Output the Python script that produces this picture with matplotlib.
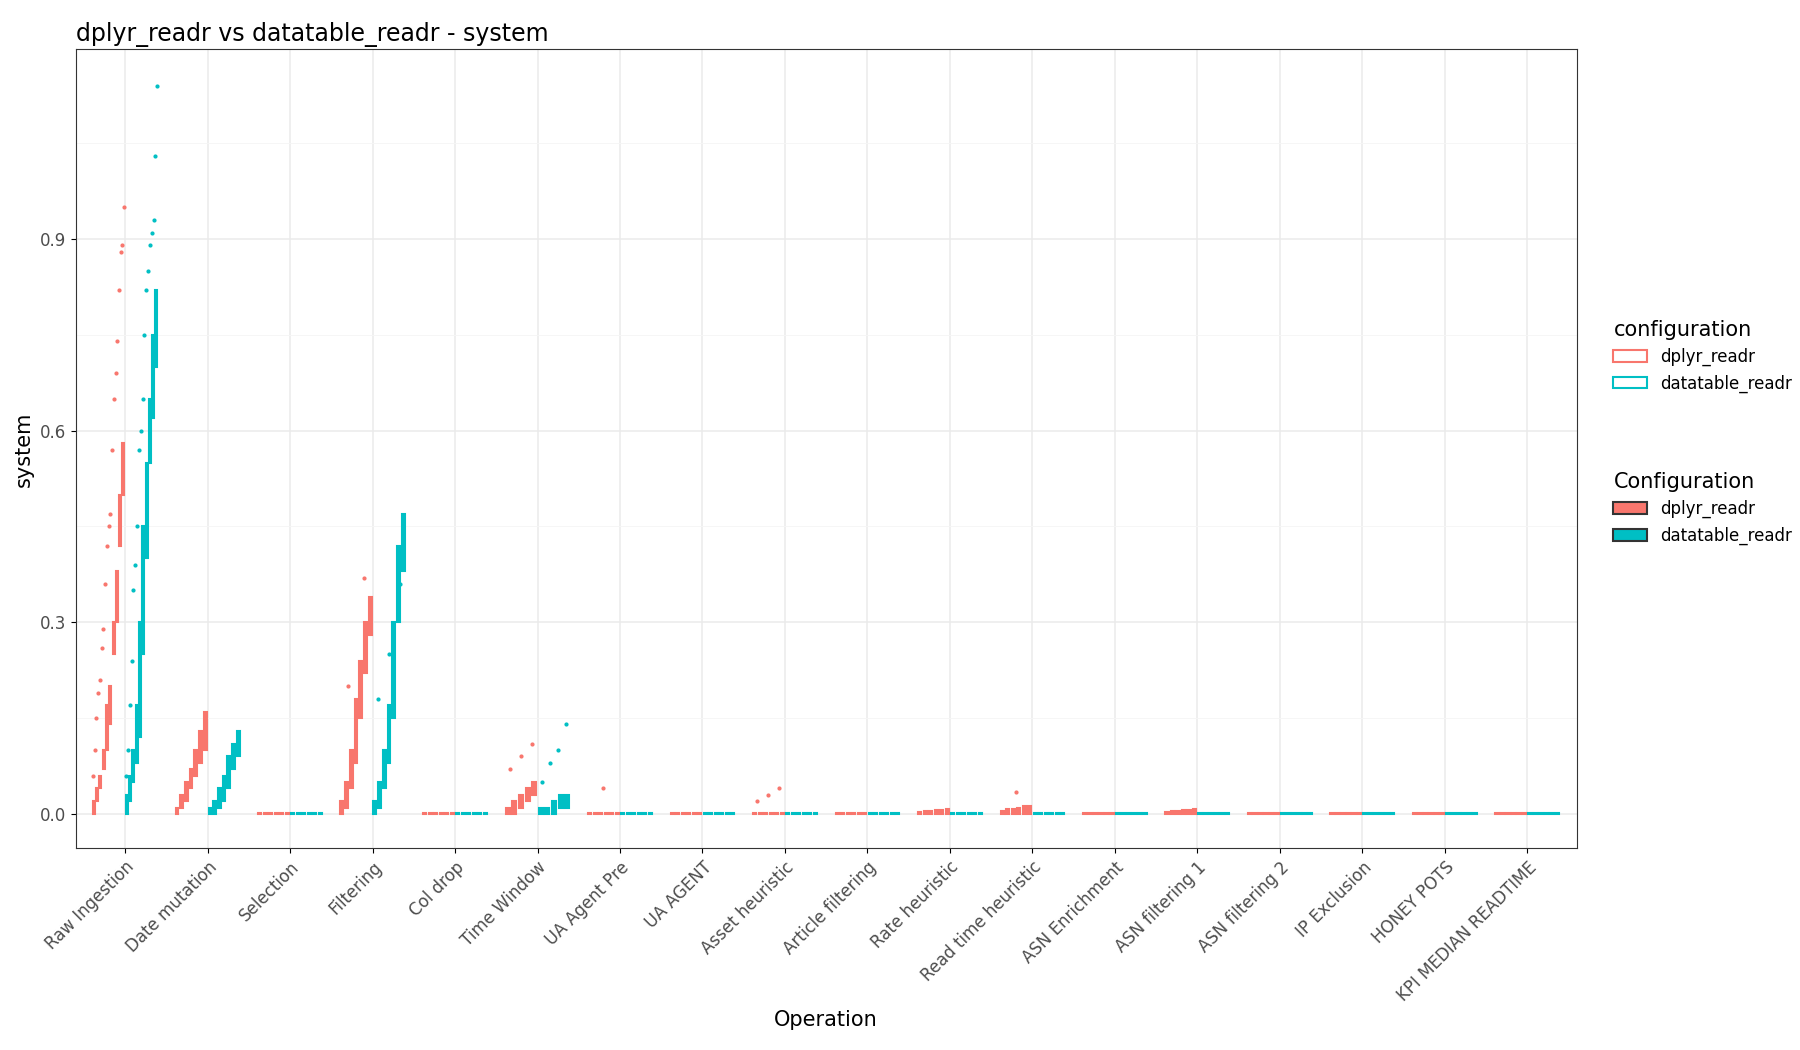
import numpy as np
import matplotlib.pyplot as plt
from matplotlib.patches import Patch

operations = ["Raw Ingestion", "Date mutation", "Selection", "Filtering", "Col drop",
              "Time Window", "UA Agent Pre", "UA AGENT", "Asset heuristic", "Article filtering",
              "Rate heuristic", "Read time heuristic", "ASN Enrichment", "ASN filtering 1",
              "ASN filtering 2", "IP Exclusion", "HONEY POTS", "KPI MEDIAN READTIME"]
configs = ["dplyr_readr", "datatable_readr"]
colors = {"dplyr_readr": "#F8766D", "datatable_readr": "#00BFC4"}

flat_lo = [0, 0, 0, 0, 0, 0]
flat_hi = [0.002, 0.002, 0.002, 0.002, 0.002, 0.002]
small_hi = [0.003, 0.004, 0.005, 0.006, 0.006, 0.007]

# per operation: (lower, upper, outliers) for dplyr and datatable
dplyr_lo = {
    "Raw Ingestion": [0.0, 0.02, 0.04, 0.07, 0.1, 0.14, 0.25, 0.3, 0.42, 0.5],
    "Date mutation": [0, 0.01, 0.02, 0.04, 0.06, 0.08, 0.1],
    "Filtering": [0, 0.01, 0.04, 0.08, 0.15, 0.22, 0.28],
    "Time Window": [0, 0, 0.01, 0.02, 0.03],
}
dplyr_hi = {
    "Raw Ingestion": [0.02, 0.04, 0.06, 0.1, 0.17, 0.2, 0.3, 0.38, 0.5, 0.58],
    "Date mutation": [0.01, 0.03, 0.05, 0.07, 0.1, 0.13, 0.16],
    "Filtering": [0.02, 0.05, 0.1, 0.18, 0.24, 0.3, 0.34],
    "Time Window": [0.01, 0.02, 0.03, 0.04, 0.05],
    "Rate heuristic": small_hi,
    "Read time heuristic": [0.005, 0.007, 0.008, 0.01, 0.012, 0.013],
    "ASN filtering 1": small_hi,
}
dplyr_out = {
    "Raw Ingestion": [0.06, 0.1, 0.15, 0.19, 0.21, 0.26, 0.29, 0.36, 0.42, 0.45, 0.47,
                      0.57, 0.65, 0.69, 0.74, 0.82, 0.88, 0.89, 0.95],
    "Filtering": [0.2, 0.37],
    "Time Window": [0.07, 0.09, 0.11],
    "UA Agent Pre": [0.04],
    "Asset heuristic": [0.02, 0.03, 0.04],
    "Read time heuristic": [0.035],
}
dt_lo = {
    "Raw Ingestion": [0.0, 0.02, 0.05, 0.08, 0.12, 0.25, 0.4, 0.55, 0.62, 0.7],
    "Date mutation": [0, 0, 0.01, 0.02, 0.04, 0.07, 0.09],
    "Filtering": [0, 0.01, 0.04, 0.08, 0.15, 0.3, 0.38],
    "Time Window": [0, 0, 0, 0.01, 0.01],
}
dt_hi = {
    "Raw Ingestion": [0.03, 0.06, 0.1, 0.17, 0.3, 0.45, 0.55, 0.65, 0.75, 0.82],
    "Date mutation": [0.01, 0.02, 0.04, 0.06, 0.09, 0.11, 0.13],
    "Filtering": [0.02, 0.05, 0.1, 0.17, 0.3, 0.42, 0.47],
    "Time Window": [0.01, 0.01, 0.02, 0.03, 0.03],
}
dt_out = {
    "Raw Ingestion": [0.06, 0.1, 0.17, 0.24, 0.35, 0.39, 0.45, 0.57, 0.6, 0.65, 0.75,
                      0.82, 0.85, 0.89, 0.91, 0.93, 1.03, 1.14],
    "Filtering": [0.18, 0.25, 0.36],
    "Time Window": [0.05, 0.08, 0.1, 0.14],
}

fig = plt.figure(figsize=(18, 10.5), dpi=100)
ax = fig.add_axes([0.042, 0.192, 0.834, 0.761])

def draw(xc, lo, hi, out, col):
    n = len(hi)
    w = 0.4 / n
    xs = xc + (np.arange(n) + 0.5) * w
    ax.bar(xs, np.array(hi) - np.array(lo), bottom=lo, width=w * 0.6,
           facecolor=col, edgecolor=col, linewidth=1.5, zorder=3)
    if out:
        ox = xc + (np.arange(len(out)) + 0.5) * 0.4 / len(out)
        ax.scatter(ox, sorted(out), s=4, color=col, zorder=4)

for i, op in enumerate(operations):
    draw(i - 0.4, dplyr_lo.get(op, flat_lo), dplyr_hi.get(op, flat_hi), dplyr_out.get(op), colors["dplyr_readr"])
    draw(i, dt_lo.get(op, flat_lo), dt_hi.get(op, flat_hi), dt_out.get(op), colors["datatable_readr"])

ax.set_xlim(-0.6, len(operations) - 0.4)
ax.set_ylim(-0.054, 1.197)
ax.set_yticks([0, 0.3, 0.6, 0.9])
ax.set_yticks([0.15, 0.45, 0.75, 1.05], minor=True)
ax.set_xticks(range(len(operations)))
ax.set_xticklabels(operations, rotation=45, ha="right", rotation_mode="anchor", fontsize=12, color="#4d4d4d")
ax.tick_params(axis="y", labelsize=12, labelcolor="#4d4d4d")
ax.tick_params(which="minor", length=0)
ax.grid(True, which="major", color="#ebebeb", linewidth=1.1)
ax.grid(True, which="minor", axis="y", color="#f5f5f5", linewidth=0.6)
ax.set_axisbelow(True)
for s in ax.spines.values():
    s.set_color("#333333")
ax.set_xlabel("Operation", fontsize=15)
ax.set_ylabel("system", fontsize=15)
ax.set_title("dplyr_readr vs datatable_readr - system", fontsize=17, loc="left", x=0)

h1 = [Patch(facecolor="white", edgecolor=colors[c], linewidth=1.5) for c in configs]
h2 = [Patch(facecolor=colors[c], edgecolor="#333333", linewidth=1.5) for c in configs]
fig.legend(h1, configs, title="configuration", loc="upper left", bbox_to_anchor=(0.888, 0.71),
           frameon=False, fontsize=12, title_fontsize=15, alignment="left")
fig.legend(h2, configs, title="Configuration", loc="upper left", bbox_to_anchor=(0.888, 0.565),
           frameon=False, fontsize=12, title_fontsize=15, alignment="left")
fig.savefig("out.png")
